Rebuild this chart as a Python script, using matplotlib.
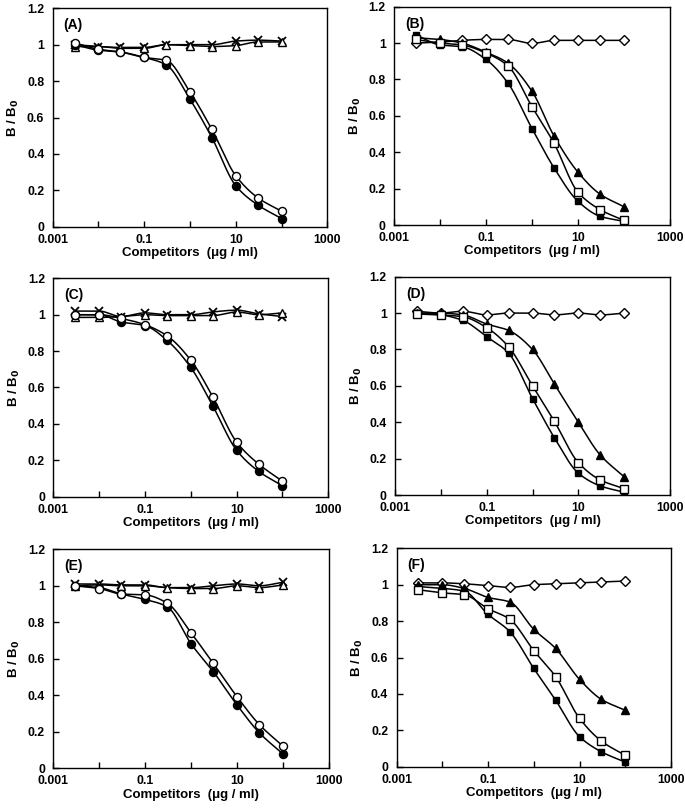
import numpy as np
import matplotlib
matplotlib.use("Agg")
import matplotlib.pyplot as plt
from matplotlib.ticker import FixedLocator, NullLocator, FuncFormatter

plt.rcParams['font.family'] = ['Liberation Sans', 'DejaVu Sans']
plt.rcParams['font.weight'] = 'bold'

conc = [0.003, 0.01, 0.03, 0.1, 0.3, 1, 3, 10, 30, 100]

# Panels A, C, E: open circles, filled circles, crosses, open triangles
A_open_circ = [1.01, 0.975, 0.96, 0.93, 0.915, 0.74, 0.535, 0.28, 0.16, 0.085]
A_fill_circ = [1.00, 0.97, 0.96, 0.93, 0.89, 0.70, 0.49, 0.225, 0.12, 0.045]
A_cross = [1.00, 0.99, 0.985, 0.985, 1.00, 1.00, 1.00, 1.02, 1.025, 1.02]
A_tri = [0.99, 0.99, 0.98, 0.98, 1.00, 0.995, 0.99, 0.995, 1.015, 1.015]

C_open_circ = [1.00, 1.00, 0.98, 0.945, 0.885, 0.75, 0.55, 0.30, 0.18, 0.085]
C_fill_circ = [1.00, 1.00, 0.96, 0.94, 0.86, 0.71, 0.50, 0.255, 0.14, 0.06]
C_cross = [1.02, 1.02, 0.99, 1.01, 1.00, 1.00, 1.015, 1.025, 1.005, 0.99]
C_tri = [0.985, 0.985, 0.99, 1.00, 0.995, 0.995, 0.995, 1.015, 1.00, 1.01]

E_open_circ = [1.00, 0.985, 0.955, 0.95, 0.905, 0.74, 0.575, 0.39, 0.24, 0.12]
E_fill_circ = [1.00, 0.99, 0.955, 0.925, 0.885, 0.68, 0.53, 0.345, 0.195, 0.077]
E_cross = [1.01, 1.01, 1.005, 1.005, 0.99, 0.99, 1.00, 1.01, 1.00, 1.02]
E_tri = [1.00, 1.005, 1.00, 1.00, 0.99, 0.985, 0.985, 1.00, 0.99, 1.005]

# Panels B, D, F: open diamonds, filled triangles, open squares, filled squares
B_diam = [1.00, 1.005, 1.015, 1.02, 1.02, 0.998, 1.015, 1.015, 1.015, 1.015]
B_fill_tri = [1.03, 1.02, 1.00, 0.95, 0.89, 0.735, 0.49, 0.29, 0.17, 0.10]
B_open_sq = [1.02, 1.00, 0.99, 0.945, 0.875, 0.65, 0.45, 0.18, 0.085, 0.025]
B_fill_sq = [1.045, 0.99, 0.98, 0.91, 0.78, 0.53, 0.315, 0.13, 0.048, 0.02]

D_diam = [1.01, 1.00, 1.01, 0.99, 1.00, 1.00, 0.99, 1.00, 0.99, 1.00]
D_fill_tri = [1.00, 1.00, 0.99, 0.94, 0.905, 0.80, 0.61, 0.40, 0.22, 0.10]
D_open_sq = [0.995, 0.99, 0.98, 0.92, 0.815, 0.60, 0.405, 0.178, 0.083, 0.035]
D_fill_sq = [1.00, 0.99, 0.96, 0.87, 0.78, 0.53, 0.315, 0.12, 0.05, 0.015]

F_diam = [1.01, 1.01, 1.005, 0.995, 0.985, 1.00, 1.005, 1.01, 1.015, 1.02]
F_fill_tri = [1.00, 1.00, 0.98, 0.93, 0.905, 0.755, 0.65, 0.48, 0.37, 0.31]
F_open_sq = [0.972, 0.955, 0.945, 0.868, 0.81, 0.638, 0.495, 0.266, 0.141, 0.062]
F_fill_sq = [0.99, 0.98, 0.965, 0.837, 0.742, 0.54, 0.366, 0.165, 0.082, 0.025]

panel_labels = ['(A)', '(B)', '(C)', '(D)', '(E)', '(F)']
x_ticklabels = {0.001: '0.001', 0.1: '0.1', 10: '10', 1000: '1000'}
y_ticks = [0, 0.2, 0.4, 0.6, 0.8, 1, 1.2]
y_ticklabels = ['0', '0.2', '0.4', '0.6', '0.8', '1', '1.2']


def pchip(x, y, xn):
    x = np.asarray(x, float); y = np.asarray(y, float)
    h = np.diff(x); d = np.diff(y) / h
    n = len(x); m = np.zeros(n)
    for k in range(1, n - 1):
        if d[k - 1] * d[k] > 0:
            w1 = 2 * h[k] + h[k - 1]; w2 = h[k] + 2 * h[k - 1]
            m[k] = (w1 + w2) / (w1 / d[k - 1] + w2 / d[k])
    m[0] = d[0]; m[-1] = d[-1]
    idx = np.clip(np.searchsorted(x, xn) - 1, 0, n - 2)
    t = (xn - x[idx]) / h[idx]
    h00 = 2 * t**3 - 3 * t**2 + 1; h10 = t**3 - 2 * t**2 + t
    h01 = -2 * t**3 + 3 * t**2; h11 = t**3 - t**2
    return h00 * y[idx] + h10 * h[idx] * m[idx] + h01 * y[idx + 1] + h11 * h[idx] * m[idx + 1]


def series(ax, y, marker, mfc, ms, mew=1.0):
    lx = np.log10(conc)
    xn = np.linspace(lx[0], lx[-1], 300)
    ax.plot(10 ** xn, pchip(lx, y, xn), color='black', lw=1.1, zorder=2)
    ax.plot(conc, y, linestyle='none', marker=marker, mfc=mfc, mec='black',
            ms=ms, mew=mew, zorder=3)


def xfmt(v, p):
    for k, s in x_ticklabels.items():
        if abs(np.log10(v) - np.log10(k)) < 1e-6:
            return s
    return ''


fig = plt.figure(figsize=(6.85, 8.08), dpi=100)
W, H = 685, 808
boxes = [(52.7, 8.3, 327.3, 226.7), (394, 6.7, 670, 225),
         (53.3, 278.3, 328.3, 496.7), (395, 276.7, 670, 495),
         (53.3, 549.3, 329.3, 768.3), (396.5, 548.3, 671, 766.7)]

left_sets = [(A_open_circ, A_fill_circ, A_cross, A_tri),
             (C_open_circ, C_fill_circ, C_cross, C_tri),
             (E_open_circ, E_fill_circ, E_cross, E_tri)]
right_sets = [(B_diam, B_fill_tri, B_open_sq, B_fill_sq),
              (D_diam, D_fill_tri, D_open_sq, D_fill_sq),
              (F_diam, F_fill_tri, F_open_sq, F_fill_sq)]

for i, (l, t, r, b) in enumerate(boxes):
    ax = fig.add_axes([l / W, 1 - b / H, (r - l) / W, (b - t) / H])
    ax.set_xscale('log')
    ax.set_xlim(0.001, 1000)
    ax.set_ylim(0, 1.2)
    if i % 2 == 0:
        oc, fc, cr, tr = left_sets[i // 2]
        series(ax, cr, 'x', 'none', 5.5, 1.3)
        series(ax, tr, '^', 'white', 5.3)
        series(ax, fc, 'o', 'black', 5.8)
        series(ax, oc, 'o', 'white', 5.8)
    else:
        dm, ft, osq, fsq = right_sets[i // 2]
        series(ax, dm, 'D', 'white', 5)
        series(ax, ft, '^', 'black', 5.5)
        series(ax, fsq, 's', 'black', 5)
        series(ax, osq, 's', 'white', 5.5)
    ax.xaxis.set_major_locator(FixedLocator([0.001, 0.01, 0.1, 1, 10, 100, 1000]))
    ax.xaxis.set_minor_locator(NullLocator())
    ax.xaxis.set_major_formatter(FuncFormatter(xfmt))
    ax.set_yticks(y_ticks)
    ax.set_yticklabels(y_ticklabels)
    ax.tick_params(direction='in', length=4, width=1, labelsize=8.8)
    ax.tick_params(axis='x', pad=5)
    ax.tick_params(axis='y', pad=6)
    for lab in ax.get_xticklabels() + ax.get_yticklabels():
        lab.set_fontweight('bold')
    for s in ax.spines.values():
        s.set_linewidth(1.0)
    ax.set_xlabel('Competitors  (\u03bcg / ml)', fontsize=9.5, fontweight='bold', labelpad=1)
    ax.set_ylabel('B / B$_\\mathbf{0}$', fontsize=9.5, fontweight='bold', labelpad=4)
    ax.text(0.04, 0.955, panel_labels[i], transform=ax.transAxes, fontsize=10,
            fontweight='bold', va='top', ha='left')

fig.savefig('out.png', dpi=100)
